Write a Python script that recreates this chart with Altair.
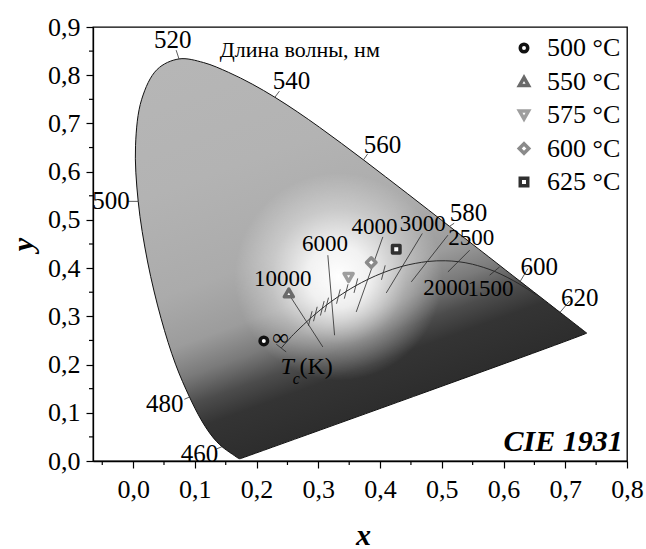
import altair as alt
import pandas as pd

FONT = "Liberation Serif"

# ---------------- CIE 1931 spectral locus (380..700 nm, step 5) ----------------
wl = list(range(380, 705, 5))
loc_x = [0.1741, 0.1740, 0.1738, 0.1736, 0.1733, 0.1730, 0.1726, 0.1721, 0.1714, 0.1703,
         0.1689, 0.1669, 0.1644, 0.1611, 0.1566, 0.1510, 0.1440, 0.1355, 0.1241, 0.1096,
         0.0913, 0.0687, 0.0454, 0.0235, 0.0082, 0.0039, 0.0139, 0.0389, 0.0743, 0.1142,
         0.1547, 0.1929, 0.2296, 0.2658, 0.3016, 0.3373, 0.3731, 0.4087, 0.4441, 0.4788,
         0.5125, 0.5448, 0.5752, 0.6029, 0.6270, 0.6482, 0.6658, 0.6801, 0.6915, 0.7006,
         0.7079, 0.7140, 0.7190, 0.7230, 0.7260, 0.7283, 0.7300, 0.7311, 0.7320, 0.7327,
         0.7334, 0.7340, 0.7344, 0.7346, 0.7347]
loc_y = [0.0050, 0.0050, 0.0049, 0.0049, 0.0048, 0.0048, 0.0048, 0.0048, 0.0051, 0.0058,
         0.0069, 0.0086, 0.0109, 0.0138, 0.0177, 0.0227, 0.0297, 0.0399, 0.0578, 0.0868,
         0.1327, 0.2007, 0.2950, 0.4127, 0.5384, 0.6548, 0.7502, 0.8120, 0.8338, 0.8262,
         0.8059, 0.7816, 0.7543, 0.7243, 0.6923, 0.6589, 0.6245, 0.5896, 0.5547, 0.5202,
         0.4866, 0.4544, 0.4242, 0.3965, 0.3725, 0.3514, 0.3340, 0.3197, 0.3083, 0.2993,
         0.2920, 0.2859, 0.2809, 0.2770, 0.2740, 0.2717, 0.2700, 0.2689, 0.2680, 0.2673,
         0.2666, 0.2660, 0.2656, 0.2654, 0.2653]

# wavelength labels, their tick start (on locus) and tick end
wl_lab = ["460", "480", "500", "520", "540", "560", "580", "600", "620"]
wl_lab_x = [0.1075, 0.0511, -0.0357, 0.0642, 0.2565, 0.4040, 0.5434, 0.6580, 0.7233]
wl_lab_y = [0.0154, 0.1176, 0.5390, 0.8740, 0.7880, 0.6550, 0.5150, 0.4020, 0.3390]
wl_tk_x1 = [0.1440, 0.0913, 0.0082, 0.0743, 0.2296, 0.3731, 0.5125, 0.6270, 0.6915]
wl_tk_y1 = [0.0297, 0.1327, 0.5384, 0.8338, 0.7543, 0.6245, 0.4866, 0.3725, 0.3083]
wl_tk_x2 = [0.1350, 0.0830, -0.0090, 0.0697, 0.2370, 0.3800, 0.5200, 0.6395, 0.7070]
wl_tk_y2 = [0.0250, 0.1280, 0.5384, 0.8520, 0.7670, 0.6370, 0.4930, 0.3990, 0.3318]

# ---------------- Planckian locus ----------------
pl_T = ["inf", "40000", "25000", "20000", "15000", "12000", "10000", "9000", "8000", "7000",
        "6500", "6000", "5500", "5000", "4500", "4000", "3500", "3000", "2500", "2200",
        "2000", "1800", "1500", "1200", "1000"]
pl_x = [0.2399, 0.2472, 0.2525, 0.2565, 0.2637, 0.2719, 0.2807, 0.2869, 0.2952, 0.3064,
        0.3135, 0.3221, 0.3325, 0.3451, 0.3608, 0.3805, 0.4053, 0.4369, 0.4770, 0.5056,
        0.5267, 0.5496, 0.5857, 0.6251, 0.6528]
pl_y = [0.2342, 0.2449, 0.2523, 0.2582, 0.2675, 0.2776, 0.2883, 0.2956, 0.3048, 0.3166,
        0.3237, 0.3318, 0.3411, 0.3516, 0.3636, 0.3768, 0.3907, 0.4041, 0.4137, 0.4152,
        0.4133, 0.4081, 0.3931, 0.3674, 0.3444]

# small ticks on the Planckian locus (centres)
tk_x = [0.2869, 0.2952, 0.3064, 0.3135, 0.3325, 0.3451, 0.3608, 0.4053]
tk_y = [0.2956, 0.3048, 0.3166, 0.3237, 0.3411, 0.3516, 0.3636, 0.3907]

# isotemperature lines
iso_lab = ["10000", "6000", "4000", "3000", "2500", "2000", "1500"]
iso_x1 = [0.2533, 0.3154, 0.4045, 0.4684, 0.5099, 0.5451, 0.5937]
iso_y1 = [0.3438, 0.4268, 0.4647, 0.4718, 0.4683, 0.4371, 0.4025]
iso_x2 = [0.3073, 0.3263, 0.3614, 0.4100, 0.4506, 0.5099, 0.5775]
iso_y2 = [0.2365, 0.2608, 0.3091, 0.3485, 0.3714, 0.3921, 0.3853]
iso_lab_x = [0.2425, 0.3110, 0.3910, 0.4690, 0.5478, 0.5073, 0.5790]
iso_lab_y = [0.3770, 0.4496, 0.4850, 0.4910, 0.4630, 0.3593, 0.3560]

# ---------------- measured points ----------------
temps = ["500 °C", "550 °C", "575 °C", "600 °C", "625 °C"]
pt_x = [0.2117, 0.2522, 0.3490, 0.3857, 0.4262]
pt_y = [0.2490, 0.3485, 0.3805, 0.4116, 0.4392]
pt_colors = ["#111111", "#6a6a6a", "#9e9e9e", "#8a8a8a", "#303030"]
pt_shapes = ["circle", "triangle-up", "triangle-down", "diamond", "square"]
pt_sizes = [56, 81, 81, 90, 56]

x_ticks = [0.0, 0.1, 0.2, 0.3, 0.4, 0.5, 0.6, 0.7, 0.8]
y_ticks = [0.0, 0.1, 0.2, 0.3, 0.4, 0.5, 0.6, 0.7, 0.8, 0.9]
x_minor = [-0.05, 0.05, 0.15, 0.25, 0.35, 0.45, 0.55, 0.65, 0.75]
y_minor = [0.05, 0.15, 0.25, 0.35, 0.45, 0.55, 0.65, 0.75, 0.85]

W, H = 534, 434

# ---------------- data frames ----------------
locus_df = pd.DataFrame({"i": list(range(len(loc_x) + 1)),
                         "x": loc_x + [loc_x[0]], "y": loc_y + [loc_y[0]]})
wl_df = pd.DataFrame({"t": wl_lab, "x": wl_lab_x, "y": wl_lab_y,
                      "x1": wl_tk_x1, "y1": wl_tk_y1, "x2": wl_tk_x2, "y2": wl_tk_y2})
pl_df = pd.DataFrame({"i": list(range(len(pl_x))), "T": pl_T, "x": pl_x, "y": pl_y})
DX, DY = 0.003, 0.015
tk_df = pd.DataFrame({"x1": [v - DX for v in tk_x], "y1": [v - DY for v in tk_y],
                      "x2": [v + DX for v in tk_x], "y2": [v + DY for v in tk_y]})
inf_tk = pd.DataFrame({"x1": [pl_x[0] - 0.008], "y1": [pl_y[0] + 0.008],
                       "x2": [pl_x[0] + 0.008], "y2": [pl_y[0] - 0.008]})
iso_df = pd.DataFrame({"t": iso_lab, "x1": iso_x1, "y1": iso_y1, "x2": iso_x2, "y2": iso_y2,
                       "lx": iso_lab_x, "ly": iso_lab_y})
pt_df = pd.DataFrame({"T": temps, "x": pt_x, "y": pt_y})
xm_df = pd.DataFrame({"v": x_minor})
ym_df = pd.DataFrame({"v": y_minor})

XS = alt.Scale(domain=[-0.065, 0.8], nice=False, zero=False)
YS = alt.Scale(domain=[0.0, 0.9], nice=False, zero=False)
LBL = "replace(format(datum.value, '.1f'), '.', ',')"
x_axis = alt.Axis(values=x_ticks, labelExpr=LBL, title="x", grid=False, labelFlush=False,
                  labelOverlap=False, labelPadding=8, titleX=270, titleY=74,
                  titleBaseline="middle", titleAlign="center")
y_axis = alt.Axis(values=y_ticks, labelExpr=LBL, title="y", grid=False, labelPadding=6,
                  labelOverlap=False, titleX=-70, titleY=217, titleAngle=270,
                  titleBaseline="middle", titleAlign="center")


def X(f):
    return alt.X(f, type="quantitative", scale=XS, axis=x_axis)


def Y(f):
    return alt.Y(f, type="quantitative", scale=YS, axis=y_axis)


lin = alt.LinearGradient(
    gradient="linear", x1=0.617, y1=0.843, x2=0.247, y2=-0.061,
    stops=[alt.GradientStop(offset=0.0, color="#2d2d2d"),
           alt.GradientStop(offset=0.11, color="#343434"),
           alt.GradientStop(offset=0.17, color="#4c4c4c"),
           alt.GradientStop(offset=0.24, color="#7a7a7a"),
           alt.GradientStop(offset=0.32, color="#9c9c9c"),
           alt.GradientStop(offset=0.45, color="#ababab"),
           alt.GradientStop(offset=0.7, color="#b3b3b3"),
           alt.GradientStop(offset=1.0, color="#b6b6b6")])
rad = alt.RadialGradient(
    gradient="radial", x1=0.45, y1=0.54, r1=0.0, x2=0.45, y2=0.54, r2=0.23,
    stops=[alt.GradientStop(offset=0.0, color="rgba(255,255,255,1)"),
           alt.GradientStop(offset=0.3, color="rgba(255,255,255,0.85)"),
           alt.GradientStop(offset=0.65, color="rgba(255,255,255,0.35)"),
           alt.GradientStop(offset=1.0, color="rgba(255,255,255,0)")])

base_locus = alt.Chart(locus_df)
fill1 = base_locus.mark_line(fill=lin, strokeWidth=0, stroke="transparent",
                             interpolate="catmull-rom").encode(
    x=X("x"), y=Y("y"), order=alt.Order("i:Q"))
fill2 = base_locus.mark_line(fill=rad, strokeWidth=0, stroke="transparent",
                             interpolate="catmull-rom").encode(
    x=X("x"), y=Y("y"), order=alt.Order("i:Q"))
outline = base_locus.mark_line(color="#111111", strokeWidth=1,
                               interpolate="catmull-rom").encode(
    x=X("x"), y=Y("y"), order=alt.Order("i:Q"))

wl_ticks = alt.Chart(wl_df).mark_rule(color="#333333", strokeWidth=0.8).encode(
    x=X("x1"), y=Y("y1"), x2="x2", y2="y2")
wl_text = alt.Chart(wl_df).mark_text(font=FONT, fontSize=25, color="black").encode(
    x=X("x"), y=Y("y"), text="t:N")

planck = alt.Chart(pl_df).mark_line(color="#2a2a2a", strokeWidth=1,
                                    interpolate="catmull-rom").encode(
    x=X("x"), y=Y("y"), order=alt.Order("i:Q"))
small_ticks = alt.Chart(tk_df).mark_rule(color="#2a2a2a", strokeWidth=0.8).encode(
    x=X("x1"), y=Y("y1"), x2="x2", y2="y2")
inf_tick = alt.Chart(inf_tk).mark_rule(color="#2a2a2a", strokeWidth=0.8).encode(
    x=X("x1"), y=Y("y1"), x2="x2", y2="y2")
iso = alt.Chart(iso_df).mark_rule(color="#2a2a2a", strokeWidth=0.8).encode(
    x=X("x1"), y=Y("y1"), x2="x2", y2="y2")
iso_text = alt.Chart(iso_df).mark_text(font=FONT, fontSize=23, color="black").encode(
    x=X("lx"), y=Y("ly"), text="t:N")

ann_df = pd.DataFrame({"t": ["∞"], "x": [0.2387], "y": [0.2556]})
inf_text = alt.Chart(ann_df).mark_text(font=FONT, fontSize=23, color="black").encode(
    x=X("x"), y=Y("y"), text="t:N")
tc_T = alt.Chart(pd.DataFrame({"t": ["T"], "x": [0.2387], "y": [0.1800]})).mark_text(
    font=FONT, fontSize=24, fontStyle="italic", align="left", baseline="alphabetic",
    color="black").encode(x=X("x"), y=Y("y"), text="t:N")
tc_c = alt.Chart(pd.DataFrame({"t": ["c"], "x": [0.2585], "y": [0.1606]})).mark_text(
    font=FONT, fontSize=16, fontStyle="italic", align="left", baseline="alphabetic",
    color="black").encode(x=X("x"), y=Y("y"), text="t:N")
tc_K = alt.Chart(pd.DataFrame({"t": ["(K)"], "x": [0.2695], "y": [0.1805]})).mark_text(
    font=FONT, fontSize=24, align="left", baseline="alphabetic",
    color="black").encode(x=X("x"), y=Y("y"), text="t:N")

title_text = alt.Chart(pd.DataFrame({"t": ["Длина волны, нм"], "x": [0.270], "y": [0.852]})).mark_text(
    font=FONT, fontSize=22, color="black").encode(x=X("x"), y=Y("y"), text="t:N")
cie_text = alt.Chart(pd.DataFrame({"t": ["CIE 1931"], "x": [0.793], "y": [0.039]})).mark_text(
    font=FONT, fontSize=30, fontWeight="bold", fontStyle="italic", align="right",
    color="black").encode(x=X("x"), y=Y("y"), text="t:N")

xminor = alt.Chart(xm_df).mark_rule(color="black", strokeWidth=1.2).encode(
    x=X("v"), y=alt.value(H), y2=alt.value(H + 4))
yminor = alt.Chart(ym_df).mark_rule(color="black", strokeWidth=1.2).encode(
    y=Y("v"), x=alt.value(0), x2=alt.value(-4))

leg = alt.Legend(title=None, orient="none", legendX=418, legendY=8, labelFont=FONT,
                 labelFontSize=26, labelColor="black", rowPadding=7.5, labelOffset=10,
                 symbolStrokeWidth=3.5, symbolFillColor="white", labelBaseline="middle")
points = alt.Chart(pt_df).mark_point(filled=False, fill="white", strokeWidth=3.5,
                                     opacity=1, strokeJoin="round").encode(
    x=X("x"), y=Y("y"),
    color=alt.Color("T:N", scale=alt.Scale(domain=temps, range=pt_colors), sort=temps, legend=leg),
    shape=alt.Shape("T:N", scale=alt.Scale(domain=temps, range=pt_shapes), sort=temps, legend=leg),
    size=alt.Size("T:N", scale=alt.Scale(type="ordinal", domain=temps, range=pt_sizes), sort=temps, legend=leg),
)

chart = alt.layer(
    fill1, fill2, outline, wl_ticks, planck, small_ticks, inf_tick, iso,
    wl_text, iso_text, inf_text, tc_T, tc_c, tc_K, title_text, cie_text,
    xminor, yminor, points
).properties(
    width=W, height=H,
    autosize=alt.AutoSizeParams(type="none"),
    padding={"left": 93, "top": 27, "right": 19, "bottom": 88},
    background="white",
).configure_view(
    stroke="black", strokeWidth=1.3
).configure_axis(
    labelFont=FONT, labelFontSize=26, labelColor="black",
    titleFont=FONT, titleFontSize=30, titleFontStyle="italic", titleFontWeight="bold",
    titleColor="black", domainColor="black", domainWidth=1.3,
    tickColor="black", tickWidth=1.2, tickSize=7
)

chart.save("out.html", embed_options={"renderer": "svg", "actions": False})
